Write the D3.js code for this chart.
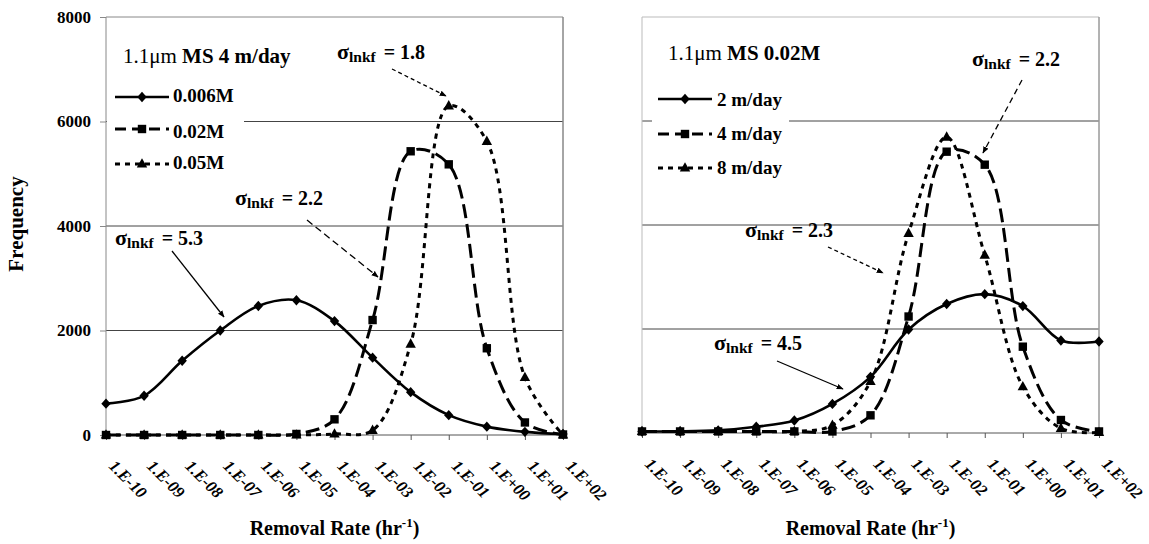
<!DOCTYPE html>
<html>
<head>
<meta charset="utf-8">
<script src="https://cdn.jsdelivr.net/npm/d3@7"></script>
<style>
  html, body { margin: 0; padding: 0; background: #fff; }
  svg { display: block; }
  text { font-family: "Liberation Serif", "Times New Roman", serif; fill: #000; }
</style>
</head>
<body>
<svg id="chart" width="1149" height="544"></svg>
<script>
// ---------------- DATA ----------------
const categories = ["1.E-10","1.E-09","1.E-08","1.E-07","1.E-06","1.E-05","1.E-04",
                    "1.E-03","1.E-02","1.E-01","1.E+00","1.E+01","1.E+02"];
const yTickValues = [0, 2000, 4000, 6000, 8000];

// Left panel: 1.1um MS 4 m/day, varying ionic strength
const leftNames = ["0.006M", "0.02M", "0.05M"];
const left006 = [600, 750, 1420, 2000, 2470, 2580, 2180, 1480, 820, 380, 160, 60, 20];
const left002 = [0, 0, 0, 0, 0, 20, 300, 2200, 5430, 5180, 1660, 240, 10];
const left005 = [0, 0, 0, 0, 0, 0, 20, 90, 1740, 6300, 5620, 1100, 0];

// Right panel: 1.1um MS 0.02M, varying velocity
const rightNames = ["2 m/day", "4 m/day", "8 m/day"];
const right2 = [30, 30, 50, 120, 240, 560, 1080, 1990, 2480, 2670, 2440, 1780, 1760];
const right4 = [30, 30, 30, 30, 30, 30, 340, 2240, 5410, 5160, 1660, 250, 30];
const right8 = [30, 30, 30, 30, 30, 150, 990, 3840, 5690, 3420, 890, 90, 10];

// ---------------- STYLE / LAYOUT ----------------
const svg = d3.select("#chart");
const FONT = '"Liberation Serif", "Times New Roman", serif';
const styles = [
  { marker: "diamond", dash: null, width: 2.6 },
  { marker: "square", dash: "14,6", width: 3 },
  { marker: "triangle", dash: "5,5", width: 3 }
];
const markerPath = {
  diamond: "M0,-5.2L4.7,0L0,5.2L-4.7,0Z",
  square: "M-4.2,-4.2H4.2V4.2H-4.2Z",
  triangle: "M0,-5.8L5.2,3.6L-5.2,3.6Z"
};

const defs = svg.append("defs");
defs.append("marker").attr("id", "arrow")
  .attr("viewBox", "0 0 10 10").attr("refX", 9).attr("refY", 5)
  .attr("markerWidth", 7).attr("markerHeight", 7).attr("markerUnits", "userSpaceOnUse")
  .attr("orient", "auto")
  .append("path").attr("d", "M0,1L10,5L0,9Z").attr("fill", "#000");

function sigmaLabel(g, x, y, value) {
  const t = g.append("text").attr("x", x).attr("y", y).attr("font-weight", "bold");
  t.append("tspan").attr("font-size", 22).text("σ");
  t.append("tspan").attr("font-size", 15.5).attr("dy", 3).text("lnkf");
  t.append("tspan").attr("font-size", 20).attr("dy", -3).attr("dx", 8).text("= " + value);
}
function arrow(g, x1, y1, x2, y2, dash) {
  g.append("line").attr("x1", x1).attr("y1", y1).attr("x2", x2).attr("y2", y2)
    .attr("stroke", "#000").attr("stroke-width", 1.3)
    .attr("stroke-dasharray", dash)
    .attr("marker-end", "url(#arrow)");
}

function drawPanel(cfg) {
  const g = svg.append("g");
  const x = d3.scalePoint().domain(categories).range([cfg.x0, cfg.x1]);
  const y = d3.scaleLinear().domain([0, 8000]).range([cfg.yb, cfg.yt]);

  // gridlines
  g.append("g").selectAll("line").data(yTickValues.filter(v => v > 0 && v < 8000)).join("line")
    .attr("x1", cfg.x0).attr("x2", cfg.x1)
    .attr("y1", d => y(d)).attr("y2", d => y(d))
    .attr("stroke", "#444").attr("stroke-width", 1);

  // plot border (top / right / left)
  g.append("path")
    .attr("d", `M${cfg.x0},${cfg.yb}V${cfg.yt}H${cfg.x1}V${cfg.yb}`)
    .attr("fill", "none").attr("stroke", cfg.leftAxisColor).attr("stroke-width", 1);
  g.append("line").attr("x1", cfg.x1).attr("x2", cfg.x1).attr("y1", cfg.yt).attr("y2", cfg.yb)
    .attr("stroke", "#888");

  // y axis labels
  if (cfg.yLabels) {
    const ya = d3.axisLeft(y).tickValues(yTickValues).tickSize(6).tickPadding(9).tickFormat(d3.format("d"));
    const ag = g.append("g").attr("transform", `translate(${cfg.x0},0)`).call(ya);
    ag.select(".domain").remove();
    ag.selectAll("line").attr("stroke", "#888");
    ag.selectAll("text").attr("font-family", FONT).attr("font-size", 17)
      .attr("font-weight", "bold").attr("fill", "#000");
  }

  // x axis
  const xa = d3.axisBottom(x).tickSize(5).tickFormat("");
  const xg = g.append("g").attr("transform", `translate(0,${cfg.yb})`).call(xa);
  xg.select(".domain").attr("stroke", "#555").attr("d", `M${cfg.x0},0H${cfg.x1}`);
  xg.selectAll("line").attr("stroke", "#555");
  g.append("g").selectAll("text").data(categories).join("text")
    .attr("transform", d => `translate(${x(d) + 2},${cfg.yb + 32}) rotate(45)`)
    .attr("font-size", 16.5).attr("font-weight", "bold").attr("font-style", "italic").text(d => d);

  // axis title
  const tt = g.append("text").attr("x", (cfg.x0 + cfg.x1) / 2).attr("y", 535)
    .attr("text-anchor", "middle").attr("font-size", 20).attr("font-weight", "bold");
  tt.append("tspan").text("Removal Rate (hr");
  tt.append("tspan").attr("font-size", 13).attr("dy", -8).text("-1");
  tt.append("tspan").attr("dy", 8).text(")");

  // legend background & title
  g.append("rect").attr("x", cfg.legBox[0]).attr("y", cfg.legBox[1])
    .attr("width", cfg.legBox[2]).attr("height", cfg.legBox[3]).attr("fill", "#fff");
  const tl = g.append("text").attr("x", cfg.titleX).attr("y", cfg.titleY).attr("font-size", 21);
  tl.append("tspan").text("1.1μm");
  tl.append("tspan").attr("font-weight", "bold").text(" " + cfg.title);

  // series
  const line = d3.line().x((d, i) => x(categories[i])).y(d => y(d)).curve(d3.curveCatmullRom);
  const order = [2, 1, 0];
  order.forEach(si => {
    const vals = cfg.series[si], st = styles[si];
    g.append("path").datum(vals).attr("d", line)
      .attr("fill", "none").attr("stroke", "#000").attr("stroke-width", st.width)
      .attr("stroke-dasharray", st.dash).attr("stroke-linejoin", "round");
  });
  order.forEach(si => {
    const vals = cfg.series[si], st = styles[si];
    g.append("g").selectAll("path").data(vals).join("path")
      .attr("transform", (d, i) => `translate(${x(categories[i])},${y(d)})`)
      .attr("d", markerPath[st.marker]).attr("fill", "#000");
  });

  // legend entries
  cfg.names.forEach((nm, i) => {
    const st = styles[i];
    const ly = cfg.legLineY[i];
    g.append("line").attr("x1", cfg.legX0).attr("x2", cfg.legX1).attr("y1", ly).attr("y2", ly)
      .attr("stroke", "#000").attr("stroke-width", st.width)
      .attr("stroke-dasharray", st.dash ? (i === 1 ? "11,6" : "5,5") : null);
    g.append("path").attr("transform", `translate(${(cfg.legX0 + cfg.legX1) / 2},${ly})`)
      .attr("d", markerPath[st.marker]).attr("fill", "#000");
    g.append("text").attr("x", cfg.legTextX).attr("y", cfg.legTextY[i])
      .attr("font-size", 19).attr("font-weight", "bold").text(nm);
  });
  return g;
}

const gl = drawPanel({
  x0: 106, x1: 563, yt: 17, yb: 435, yLabels: true, leftAxisColor: "#888",
  series: [left006, left002, left005], names: leftNames,
  title: "MS 4 m/day", titleX: 123, titleY: 63,
  legBox: [107, 80, 137, 98],
  legX0: 115, legX1: 169, legLineY: [97, 129, 164], legTextX: 173, legTextY: [102, 138, 169]
});
const gr = drawPanel({
  x0: 642, x1: 1099, yt: 17, yb: 433, yLabels: false, leftAxisColor: "#bbb",
  series: [right2, right4, right8], names: rightNames,
  title: "MS 0.02M", titleX: 668, titleY: 60,
  legBox: [652, 80, 137, 98],
  legX0: 658, legX1: 712, legLineY: [99, 134, 168], legTextX: 717, legTextY: [106, 140, 174]
});

// y axis title
svg.append("text").attr("transform", "translate(23,224) rotate(-90)")
  .attr("text-anchor", "middle").attr("font-size", 21).attr("font-weight", "bold").text("Frequency");

// annotations (sigma labels and arrows)
const ann = svg.append("g");
sigmaLabel(ann, 337, 59, "1.8");  arrow(ann, 392, 69, 446, 96, "4,3");
sigmaLabel(ann, 235, 205, "2.2"); arrow(ann, 307, 220, 378, 277, "7,4");
sigmaLabel(ann, 115, 245, "5.3"); arrow(ann, 172, 251, 224, 317, null);
sigmaLabel(ann, 972, 66, "2.2");  arrow(ann, 1022, 80, 983, 153, "6,4");
sigmaLabel(ann, 745, 237, "2.3"); arrow(ann, 828, 247, 883, 273, "4,3");
sigmaLabel(ann, 714, 350, "4.5"); arrow(ann, 777, 361, 843, 389, null);
</script>
</body>
</html>
